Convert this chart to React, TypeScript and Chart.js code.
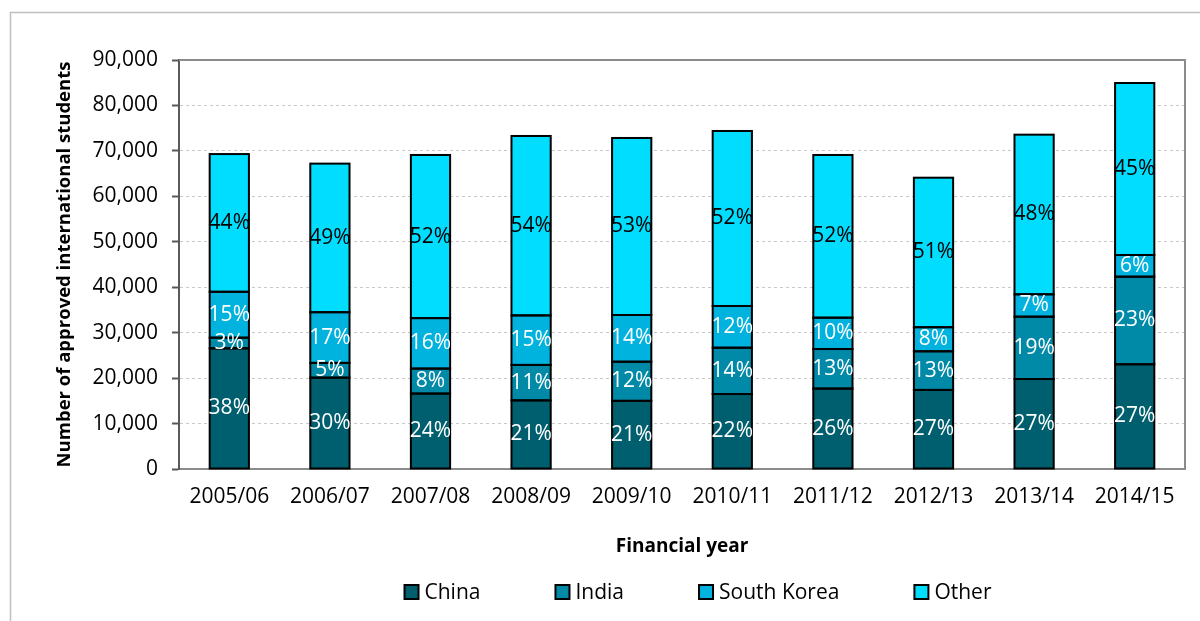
import React, { useEffect, useRef } from "react";
import { Chart, registerables } from "chart.js";

Chart.register(...registerables);

const categories = ["2005/06", "2006/07", "2007/08", "2008/09", "2009/10", "2010/11", "2011/12", "2012/13", "2013/14", "2014/15"];
const china = [26550, 20100, 16600, 15100, 15000, 16500, 17700, 17400, 19800, 23040];
const india = [2350, 3250, 5500, 7800, 8610, 10190, 8700, 8500, 13720, 19280];
const southKorea = [10100, 11150, 11100, 10900, 10280, 9180, 6900, 5300, 4920, 4770];
const other = [30300, 32700, 35900, 39480, 38950, 38510, 35800, 32900, 35130, 37850];
const seriesNames = ["China", "India", "South Korea", "Other"];
const seriesColors = ["rgb(0,95,110)", "rgb(0,138,168)", "rgb(0,178,222)", "rgb(0,221,255)"];
const labelColors = ["#ffffff", "#ffffff", "#ffffff", "#000000"];
const yTicks = [0, 10000, 20000, 30000, 40000, 50000, 60000, 70000, 80000, 90000];

const FONT = "'Open Sans', 'Noto Sans', sans-serif";

const framePlugin = {
  id: "frame",
  beforeDraw(chart: any) {
    const ctx = chart.ctx;
    ctx.save();
    ctx.fillStyle = "#ffffff";
    ctx.fillRect(0, 0, chart.width, chart.height);
    ctx.strokeStyle = "#BFBFBF";
    ctx.lineWidth = 1.5;
    ctx.strokeRect(10.5, 12.5, 1400, 800);
    ctx.restore();
  },
  beforeDatasetsDraw(chart: any) {
    const { ctx, chartArea } = chart;
    ctx.save();
    ctx.strokeStyle = "#8C8C8C";
    ctx.lineWidth = 2;
    ctx.beginPath();
    ctx.moveTo(chartArea.left, chartArea.top);
    ctx.lineTo(chartArea.right, chartArea.top);
    ctx.lineTo(chartArea.right, chartArea.bottom);
    ctx.stroke();
    ctx.restore();
  },
};

const labelPlugin = {
  id: "pctLabels",
  afterDatasetsDraw(chart: any) {
    const ctx = chart.ctx;
    const datasets = chart.data.datasets;
    const n = chart.data.labels.length;
    const totals: number[] = [];
    for (let i = 0; i < n; i++) {
      totals.push(datasets.reduce((s: number, d: any) => s + d.data[i], 0));
    }
    ctx.save();
    // segment outlines
    ctx.strokeStyle = "#000";
    ctx.lineWidth = 2;
    datasets.forEach((d: any, di: number) => {
      const meta = chart.getDatasetMeta(di);
      meta.data.forEach((el: any) => {
        const { x, y, base, width } = el.getProps(["x", "y", "base", "width"], true);
        ctx.strokeRect(x - width / 2, Math.min(y, base), width, Math.abs(base - y));
      });
    });
    ctx.font = `21px ${FONT}`;
    ctx.textAlign = "center";
    ctx.textBaseline = "middle";
    datasets.forEach((d: any, di: number) => {
      const meta = chart.getDatasetMeta(di);
      meta.data.forEach((el: any, i: number) => {
        const pct = Math.round((d.data[i] / totals[i]) * 100) + "%";
        ctx.fillStyle = labelColors[di];
        ctx.fillText(pct, el.x, (el.y + el.base) / 2);
      });
    });
    ctx.restore();
  },
};

const legendPlugin = {
  id: "customLegend",
  afterDraw(chart: any) {
    const ctx = chart.ctx;
    const datasets = chart.data.datasets;
    ctx.save();
    ctx.font = `21px ${FONT}`;
    const box = 14;
    const gap = 6;
    const spacing = 75;
    const widths = datasets.map((d: any) => box + gap + ctx.measureText(d.label).width);
    const total = widths.reduce((a: number, b: number) => a + b, 0) + spacing * (datasets.length - 1);
    let x = 698 - total / 2;
    const y = 592;
    datasets.forEach((d: any, i: number) => {
      ctx.fillStyle = d.backgroundColor;
      ctx.fillRect(x, y - box / 2, box, box);
      ctx.strokeStyle = "#000";
      ctx.lineWidth = 2;
      ctx.strokeRect(x, y - box / 2, box, box);
      ctx.fillStyle = "#000";
      ctx.textAlign = "left";
      ctx.textBaseline = "middle";
      ctx.fillText(d.label, x + box + gap, y + 1);
      x += widths[i] + spacing;
    });
    ctx.restore();
  },
};

export default function App() {
  const ref = useRef<HTMLCanvasElement | null>(null);
  useEffect(() => {
    document.body.style.margin = "0";
    document.body.style.overflow = "hidden";
    const seriesData = [china, india, southKorea, other];
    const chart = new Chart(ref.current as HTMLCanvasElement, {
      type: "bar",
      data: {
        labels: categories,
        datasets: seriesNames.map((name, i) => ({
          label: name,
          data: seriesData[i],
          backgroundColor: seriesColors[i],
          borderWidth: 0,
          inflateAmount: 0,
          categoryPercentage: 1,
          barPercentage: 0.39,
        })),
      },
      options: {
        responsive: false,
        animation: false,
        layout: { padding: { left: 0, top: 60, right: 15, bottom: 63 } },
        plugins: {
          legend: { display: false },
          tooltip: { enabled: false },
          title: { display: false },
        },
        scales: {
          x: {
            stacked: true,
            grid: { display: false, drawTicks: false },
            border: { display: true, color: "#8C8C8C", width: 2 },
            ticks: { color: "#000", font: { family: FONT, size: 21 }, padding: 15, maxRotation: 0 },
            title: {
              display: true,
              text: "Financial year",
              color: "#000",
              font: { family: FONT, size: 19, weight: "bold" },
              padding: { top: 0, bottom: 0 },
            },
            afterFit: (s: any) => { s.height = 89; },
          },
          y: {
            stacked: true,
            min: 0,
            max: 90000,
            afterBuildTicks: (s: any) => { s.ticks = yTicks.map((v) => ({ value: v })); },
            grid: { color: "#C8C8C8", lineWidth: 1, tickColor: "#595959", tickLength: 7, tickBorderDash: [], tickWidth: 2 },
            border: { display: true, color: "#595959", width: 2, dash: [3, 3] },
            ticks: {
              color: "#000",
              font: { family: FONT, size: 21 },
              padding: 14,
              callback: (v: any) => Number(v).toLocaleString("en-US"),
            },
            title: {
              display: true,
              text: "Number of approved international students",
              color: "#000",
              font: { family: FONT, size: 18.5, weight: "bold" },
              padding: { top: 54, bottom: 0 },
            },
            afterFit: (s: any) => { s.width = 179; },
          },
        },
      },
      plugins: [framePlugin, labelPlugin, legendPlugin],
    });
    return () => chart.destroy();
  }, []);
  return <canvas ref={ref} width={1200} height={621} style={{ display: "block", width: 1200, height: 621 }} />;
}
